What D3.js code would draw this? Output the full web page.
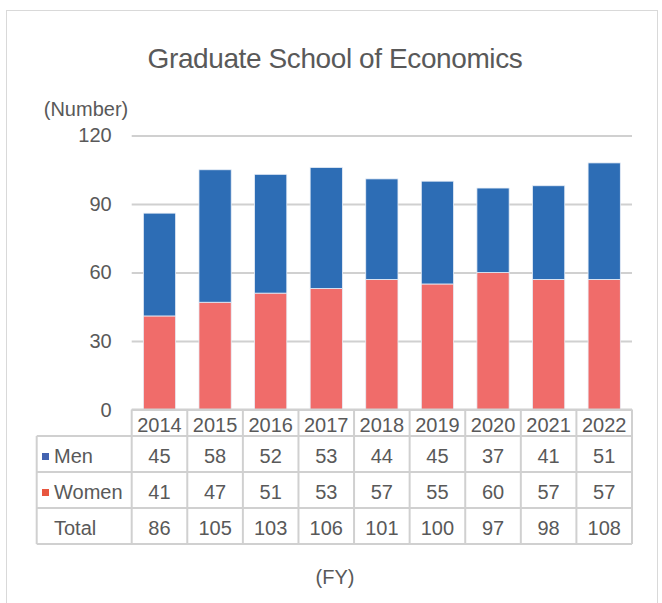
<!DOCTYPE html>
<html><head><meta charset="utf-8">
<script src="https://cdn.jsdelivr.net/npm/d3@7"></script>
<style>body{margin:0;background:#fff}svg{display:block}text{font-family:"Liberation Sans",Arial,sans-serif;fill:#595959}</style>
</head><body>
<script>
const years = ["2014","2015","2016","2017","2018","2019","2020","2021","2022"];
const men = [45,58,52,53,44,45,37,41,51];
const women = [41,47,51,53,57,55,60,57,57];
const totals = [86,105,103,106,101,100,97,98,108];
const yTicks = [0,30,60,90,120];

const W=662,H=603;
const svg=d3.select("body").append("svg").attr("width",W).attr("height",H);
svg.append("rect").attr("x",6.5).attr("y",10.5).attr("width",651).attr("height",620).attr("fill","#fff").attr("stroke","#d9d9d9");

const x=d3.scaleBand().domain(years).range([131.7,632]).paddingInner(0.42).paddingOuter(0.21);
const xc=d3.scaleBand().domain(years).range([131.7,632]);
const y=d3.scaleLinear().domain([0,120]).range([409.6,135.5]);

svg.append("text").attr("x",335).attr("y",68).attr("text-anchor","middle").attr("font-size",28).attr("letter-spacing",-0.4).text("Graduate School of Economics");
svg.append("text").attr("x",86).attr("y",116).attr("text-anchor","middle").attr("font-size",20).text("(Number)");

const ya=svg.append("g").attr("transform","translate(131.7,0)").call(d3.axisLeft(y).tickValues(yTicks).tickSize(-(632-131.7)).tickPadding(20));
ya.select(".domain").remove();
ya.selectAll(".tick line").attr("stroke","#d0d0d0").attr("stroke-width",2);
ya.selectAll(".tick text").attr("font-size",20).attr("fill","#595959").attr("font-family","Liberation Sans, Arial, sans-serif");

const stackData=years.map((yr,i)=>({yr,women:women[i],men:men[i]}));
const series=d3.stack().keys(["women","men"])(stackData);
const colors={women:"#f06c6a",men:"#2d6db5"};
svg.append("g").selectAll("g").data(series).join("g").attr("fill",d=>colors[d.key])
 .selectAll("rect").data(d=>d).join("rect")
 .attr("x",d=>x(d.data.yr)).attr("width",x.bandwidth())
 .attr("y",d=>y(d[1])).attr("height",d=>y(d[0])-y(d[1]))
 .attr("stroke","#e8eef7").attr("stroke-width",0.8);

// table
const rowsY=[409.6,436,472,508,544];
const g=svg.append("g");
const lc="#d0d0d0";
g.append("line").attr("x1",131.7).attr("x2",632).attr("y1",rowsY[0]).attr("y2",rowsY[0]).attr("stroke",lc).attr("stroke-width",2);
for(let k=1;k<rowsY.length;k++) g.append("line").attr("x1",36.7).attr("x2",632).attr("y1",rowsY[k]).attr("y2",rowsY[k]).attr("stroke",lc).attr("stroke-width",2);
g.append("line").attr("x1",36.7).attr("x2",36.7).attr("y1",rowsY[1]).attr("y2",rowsY[4]).attr("stroke",lc).attr("stroke-width",2);
years.forEach(yr=>{g.append("line").attr("x1",xc(yr)).attr("x2",xc(yr)).attr("y1",rowsY[0]).attr("y2",rowsY[4]).attr("stroke",lc).attr("stroke-width",2);});
g.append("line").attr("x1",632).attr("x2",632).attr("y1",rowsY[0]).attr("y2",rowsY[4]).attr("stroke",lc).attr("stroke-width",2);

const base=[432,463,499,535];
years.forEach((yr,i)=>{
  const cx=xc(yr)+xc.bandwidth()/2;
  g.append("text").attr("x",cx).attr("y",base[0]).attr("text-anchor","middle").attr("font-size",20).text(yr);
  g.append("text").attr("x",cx).attr("y",base[1]).attr("text-anchor","middle").attr("font-size",20).text(men[i]);
  g.append("text").attr("x",cx).attr("y",base[2]).attr("text-anchor","middle").attr("font-size",20).text(women[i]);
  g.append("text").attr("x",cx).attr("y",base[3]).attr("text-anchor","middle").attr("font-size",20).text(totals[i]);
});
g.append("rect").attr("x",42).attr("y",base[1]-10).attr("width",7).attr("height",7).attr("fill","#4363b0");
g.append("text").attr("x",54).attr("y",base[1]).attr("font-size",20).text("Men");
g.append("rect").attr("x",42).attr("y",base[2]-10).attr("width",7).attr("height",7).attr("fill","#e8563f");
g.append("text").attr("x",54).attr("y",base[2]).attr("font-size",20).text("Women");
g.append("text").attr("x",54).attr("y",base[3]).attr("font-size",20).text("Total");

svg.append("text").attr("x",335).attr("y",584).attr("text-anchor","middle").attr("font-size",20).text("(FY)");
</script>
</body></html>
